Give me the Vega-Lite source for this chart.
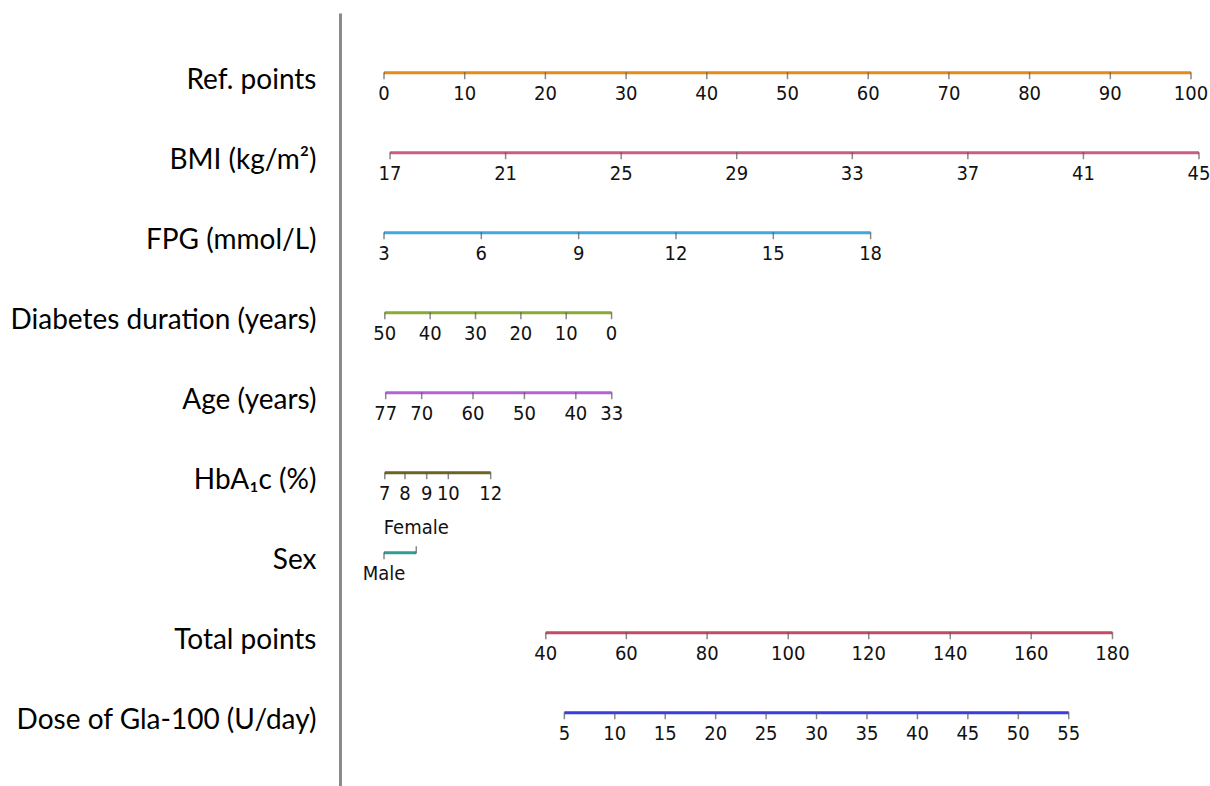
{
  "$schema": "https://vega.github.io/schema/vega-lite/v6.json",
  "width": 870,
  "height": 773,
  "padding": {"left": 340, "top": 13, "right": 0, "bottom": 0},
  "autosize": {"type": "none"},
  "background": "white",
  "config": {"view": {"stroke": null}},
  "data": {
    "values": [
      {"var": "Ref. points", "value": "0", "pos": 0, "side": "below"},
      {"var": "Ref. points", "value": "10", "pos": 10, "side": "below"},
      {"var": "Ref. points", "value": "20", "pos": 20, "side": "below"},
      {"var": "Ref. points", "value": "30", "pos": 30, "side": "below"},
      {"var": "Ref. points", "value": "40", "pos": 40, "side": "below"},
      {"var": "Ref. points", "value": "50", "pos": 50, "side": "below"},
      {"var": "Ref. points", "value": "60", "pos": 60, "side": "below"},
      {"var": "Ref. points", "value": "70", "pos": 70, "side": "below"},
      {"var": "Ref. points", "value": "80", "pos": 80, "side": "below"},
      {"var": "Ref. points", "value": "90", "pos": 90, "side": "below"},
      {"var": "Ref. points", "value": "100", "pos": 100, "side": "below"},
      {"var": "BMI (kg/m²)", "value": "17", "pos": 0.75, "side": "below"},
      {"var": "BMI (kg/m²)", "value": "21", "pos": 15.07, "side": "below"},
      {"var": "BMI (kg/m²)", "value": "25", "pos": 29.39, "side": "below"},
      {"var": "BMI (kg/m²)", "value": "29", "pos": 43.71, "side": "below"},
      {"var": "BMI (kg/m²)", "value": "33", "pos": 58.03, "side": "below"},
      {"var": "BMI (kg/m²)", "value": "37", "pos": 72.35, "side": "below"},
      {"var": "BMI (kg/m²)", "value": "41", "pos": 86.67, "side": "below"},
      {"var": "BMI (kg/m²)", "value": "45", "pos": 100.99, "side": "below"},
      {"var": "FPG (mmol/L)", "value": "3", "pos": 0, "side": "below"},
      {"var": "FPG (mmol/L)", "value": "6", "pos": 12.06, "side": "below"},
      {"var": "FPG (mmol/L)", "value": "9", "pos": 24.12, "side": "below"},
      {"var": "FPG (mmol/L)", "value": "12", "pos": 36.18, "side": "below"},
      {"var": "FPG (mmol/L)", "value": "15", "pos": 48.24, "side": "below"},
      {"var": "FPG (mmol/L)", "value": "18", "pos": 60.3, "side": "below"},
      {"var": "Diabetes duration (years)", "value": "50", "pos": 0.1, "side": "below"},
      {"var": "Diabetes duration (years)", "value": "40", "pos": 5.72, "side": "below"},
      {"var": "Diabetes duration (years)", "value": "30", "pos": 11.34, "side": "below"},
      {"var": "Diabetes duration (years)", "value": "20", "pos": 16.96, "side": "below"},
      {"var": "Diabetes duration (years)", "value": "10", "pos": 22.58, "side": "below"},
      {"var": "Diabetes duration (years)", "value": "0", "pos": 28.2, "side": "below"},
      {"var": "Age (years)", "value": "77", "pos": 0.21, "side": "below"},
      {"var": "Age (years)", "value": "70", "pos": 4.67, "side": "below"},
      {"var": "Age (years)", "value": "60", "pos": 11.03, "side": "below"},
      {"var": "Age (years)", "value": "50", "pos": 17.4, "side": "below"},
      {"var": "Age (years)", "value": "40", "pos": 23.77, "side": "below"},
      {"var": "Age (years)", "value": "33", "pos": 28.22, "side": "below"},
      {"var": "HbA₁c (%)", "value": "7", "pos": 0.1, "side": "below"},
      {"var": "HbA₁c (%)", "value": "8", "pos": 2.6, "side": "below"},
      {"var": "HbA₁c (%)", "value": "9", "pos": 5.29, "side": "below"},
      {"var": "HbA₁c (%)", "value": "10", "pos": 7.97, "side": "below"},
      {"var": "HbA₁c (%)", "value": "12", "pos": 13.22, "side": "below"},
      {"var": "Sex", "value": "Male", "pos": 0, "side": "below"},
      {"var": "Sex", "value": "Female", "pos": 4.0, "side": "above"},
      {"var": "Total points", "value": "40", "pos": 20.05, "side": "below"},
      {"var": "Total points", "value": "60", "pos": 30.03, "side": "below"},
      {"var": "Total points", "value": "80", "pos": 40.04, "side": "below"},
      {"var": "Total points", "value": "100", "pos": 50.09, "side": "below"},
      {"var": "Total points", "value": "120", "pos": 60.07, "side": "below"},
      {"var": "Total points", "value": "140", "pos": 70.17, "side": "below"},
      {"var": "Total points", "value": "160", "pos": 80.2, "side": "below"},
      {"var": "Total points", "value": "180", "pos": 90.27, "side": "below"},
      {"var": "Dose of Gla-100 (U/day)", "value": "5", "pos": 22.35, "side": "below"},
      {"var": "Dose of Gla-100 (U/day)", "value": "10", "pos": 28.6, "side": "below"},
      {"var": "Dose of Gla-100 (U/day)", "value": "15", "pos": 34.85, "side": "below"},
      {"var": "Dose of Gla-100 (U/day)", "value": "20", "pos": 41.1, "side": "below"},
      {"var": "Dose of Gla-100 (U/day)", "value": "25", "pos": 47.35, "side": "below"},
      {"var": "Dose of Gla-100 (U/day)", "value": "30", "pos": 53.6, "side": "below"},
      {"var": "Dose of Gla-100 (U/day)", "value": "35", "pos": 59.85, "side": "below"},
      {"var": "Dose of Gla-100 (U/day)", "value": "40", "pos": 66.1, "side": "below"},
      {"var": "Dose of Gla-100 (U/day)", "value": "45", "pos": 72.35, "side": "below"},
      {"var": "Dose of Gla-100 (U/day)", "value": "50", "pos": 78.6, "side": "below"},
      {"var": "Dose of Gla-100 (U/day)", "value": "55", "pos": 84.85, "side": "below"}
    ]
  },
  "encoding": {
    "y": {
      "field": "var",
      "type": "nominal",
      "scale": {
        "type": "point",
        "domain": ["Ref. points", "BMI (kg/m²)", "FPG (mmol/L)", "Diabetes duration (years)", "Age (years)", "HbA₁c (%)", "Sex", "Total points", "Dose of Gla-100 (U/day)"],
        "padding": 0.83125,
        "align": 0.449
      },
      "axis": {
        "title": null,
        "ticks": false,
        "grid": false,
        "domainColor": "#8a8a8a",
        "domainWidth": 3,
        "labelPadding": 24,
        "labelFont": "Lato",
        "labelFontSize": 28,
        "labelColor": "#000000",
        "labelOffset": 8,
        "labelLimit": 400
      }
    }
  },
  "layer": [
    {
      "transform": [
        {"aggregate": [{"op": "min", "field": "pos", "as": "lo"}, {"op": "max", "field": "pos", "as": "hi"}], "groupby": ["var"]}
      ],
      "mark": {"type": "rule", "strokeWidth": 3},
      "encoding": {
        "x": {"field": "lo", "type": "quantitative", "scale": {"domain": [-5.452, 102.355], "nice": false, "zero": false}, "axis": null},
        "x2": {"field": "hi"},
        "color": {
          "field": "var",
          "type": "nominal",
          "legend": null,
          "scale": {
            "domain": ["Ref. points", "BMI (kg/m²)", "FPG (mmol/L)", "Diabetes duration (years)", "Age (years)", "HbA₁c (%)", "Sex", "Total points", "Dose of Gla-100 (U/day)"],
            "range": ["#e8891c", "#cc5c80", "#3ea9e2", "#8aaa30", "#b462d8", "#6e6422", "#2e9e92", "#c44a66", "#3a3ae6"]
          }
        }
      }
    },
    {
      "transform": [{"filter": "datum.side === 'below'"}],
      "mark": {"type": "tick", "orient": "vertical", "size": 7, "thickness": 1.5, "yOffset": 3, "color": "#555555"},
      "encoding": {
        "x": {"field": "pos", "type": "quantitative"}
      }
    },
    {
      "transform": [{"filter": "datum.side === 'above'"}],
      "mark": {"type": "tick", "orient": "vertical", "size": 7, "thickness": 1.5, "yOffset": -3, "color": "#555555"},
      "encoding": {
        "x": {"field": "pos", "type": "quantitative"}
      }
    },
    {
      "transform": [{"filter": "datum.side === 'below'"}],
      "mark": {"type": "text", "dy": 21, "font": "DejaVu Sans Condensed, Liberation Sans", "fontSize": 20, "color": "#111111", "baseline": "middle", "align": "center"},
      "encoding": {
        "x": {"field": "pos", "type": "quantitative"},
        "text": {"field": "value"}
      }
    },
    {
      "transform": [{"filter": "datum.side === 'above'"}],
      "mark": {"type": "text", "dy": -25, "font": "DejaVu Sans Condensed, Liberation Sans", "fontSize": 20, "color": "#111111", "baseline": "middle", "align": "center"},
      "encoding": {
        "x": {"field": "pos", "type": "quantitative"},
        "text": {"field": "value"}
      }
    }
  ]
}
